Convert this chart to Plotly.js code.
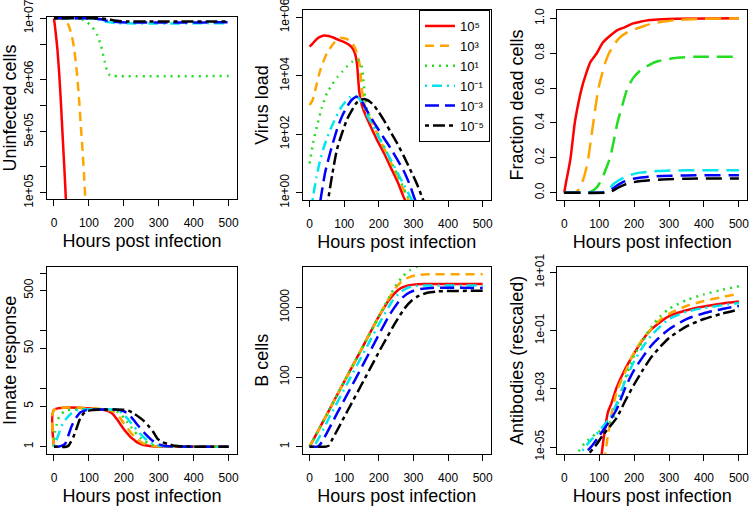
<!DOCTYPE html>
<html><head><meta charset="utf-8">
<script src="https://cdn.plot.ly/plotly-3.0.1.min.js"></script>
<style>html,body{margin:0;padding:0;background:#fff}</style>
</head><body><div id="chart" style="width:750px;height:508px"></div>
<script>
// ---------- series ----------
const seriesNames = ['10\u2075','10\u00B3','10\u00B9','10\u207B\u00B9','10\u207B\u00B3','10\u207B\u2075'];
const seriesColors = ['#FF0000','#FFA500','#22DD22','#00E5EE','#0000FF','#000000'];
const seriesDash = ['solid','9px,6px','2px,5px','2px,5px,10px,5px','14px,6px','4px,4px,12px,4px'];
const deadDash = ['solid','16px,8px','16px,8px','16px,8px','16px,8px','16px,8px'];

// ---------- Uninfected cells ----------
const uninfectedT = [
  [0,5,10,15,20,25,30,35,40],
  [0,20,30,40,50,58,65,72,78,82,86,90,95],
  [0,60,80,95,110,123,135,145,152,160,170,500],
  [0,100,120,150,180,500],
  [0,110,130,160,190,500],
  [0,130,150,180,210,500]
];
const uninfectedV = [
  [1e7,6.8e6,4.3e6,2.3e6,1.05e6,4.3e5,1.8e5,7e4,2.5e4],
  [1e7,9.9e6,9.5e6,8.6e6,6.6e6,4.4e6,2.5e6,1.15e6,5e5,3e5,1.6e5,8e4,3e4],
  [1e7,9.95e6,9.7e6,9.0e6,7.9e6,6.5e6,4.8e6,3.2e6,2.5e6,2.22e6,2.18e6,2.18e6],
  [1e7,1e7,9.8e6,9.1e6,8.8e6,8.8e6],
  [1e7,1e7,9.8e6,9.2e6,9.0e6,9.0e6],
  [1e7,1e7,9.8e6,9.35e6,9.2e6,9.2e6]
];

// ---------- Virus load (log10 values) ----------
const virusT = [
  [0,10,20,30,42,55,70,85,100,115,125,132,137,140,143,147,152,160,175,195,215,235,255,270,285],
  [0,8,16,31,50,70,90,105,120,130,138,146,150,156,160,180,200,220,240,260,281,295],
  [0,10,21,35,50,65,80,95,108,122,138,146,151,155,160,166,180,200,220,240,260,283,295],
  [0,5,10,20,31,45,60,75,89,104,118,127,135,146,156,166,180,195,214,233,250,270,290,305],
  [0,15,25,33,45,60,80,95,110,122,135,145,155,166,180,195,214,233,253,272,290,301,315],
  [0,20,35,45,55,65,79,94,108,122,136,150,160,170,185,200,214,233,253,272,291,310,324,335]
];
const virusLog10 = [
  [5.0,5.12,5.25,5.33,5.38,5.36,5.3,5.22,5.15,5.05,4.92,4.72,4.4,3.95,3.5,3.2,2.95,2.7,2.3,1.8,1.35,0.85,0.35,-0.1,-0.5],
  [3.0,3.15,3.5,4.2,4.77,5.12,5.29,5.27,5.15,4.98,4.72,4.3,3.6,3.2,2.9,2.4,1.9,1.4,0.9,0.4,-0.13,-0.5],
  [1.0,1.7,2.26,2.9,3.4,3.7,3.95,4.15,4.32,4.47,4.55,4.45,4.3,3.88,3.3,2.85,2.45,1.95,1.45,0.95,0.45,-0.13,-0.45],
  [-1,-0.55,-0.13,0.55,1.14,1.7,2.17,2.55,2.88,3.12,3.28,3.33,3.3,3.18,2.95,2.65,2.34,2.0,1.58,1.15,0.77,0.32,-0.13,-0.5],
  [-3,-1.6,-0.8,-0.13,0.7,1.4,2.2,2.65,2.98,3.18,3.28,3.22,3.05,2.8,2.52,2.23,1.88,1.54,1.14,0.74,0.25,-0.13,-0.55],
  [-5,-3.3,-1.8,-0.9,-0.13,0.6,1.48,2.05,2.51,2.82,3.08,3.18,3.2,3.15,3.0,2.75,2.49,2.1,1.69,1.25,0.78,0.3,-0.13,-0.45]
];

// ---------- Fraction dead cells ----------
const deadT = [
  [0,5,10,18,24,30,40,50,62,75,93,110,131,150,174,195,217,245,280,320,500],
  [0,25,35,45,55,63,69,76,83,90,98,108,118,128,140,152,165,185,205,226,250,280,320,380,500],
  [0,60,75,93,110,122,131,142,152,166,181,198,217,245,270,293,330,380,500],
  [0,100,115,130,141,155,179,200,217,250,293,350,500],
  [0,110,125,140,150,165,180,198,220,245,280,350,500],
  [0,120,135,148,160,175,198,220,245,280,350,500]
];
const deadV = [
  [0,0.06,0.11,0.2,0.3,0.4,0.51,0.6,0.68,0.75,0.8,0.86,0.9,0.93,0.95,0.97,0.98,0.99,0.995,0.998,1],
  [0,0,0.005,0.03,0.08,0.14,0.2,0.3,0.4,0.5,0.6,0.68,0.75,0.8,0.84,0.875,0.9,0.925,0.94,0.955,0.97,0.98,0.99,0.997,1],
  [0,0,0.005,0.03,0.09,0.15,0.2,0.3,0.4,0.5,0.6,0.66,0.7,0.735,0.755,0.765,0.775,0.78,0.78],
  [0,0,0.005,0.025,0.05,0.07,0.095,0.108,0.115,0.122,0.126,0.128,0.128],
  [0,0,0.005,0.025,0.04,0.058,0.07,0.08,0.087,0.092,0.096,0.099,0.1],
  [0,0,0.007,0.022,0.035,0.048,0.06,0.067,0.072,0.076,0.08,0.082]
];

// ---------- Innate response ----------
const innateT = [
  [0,0.5,140,160,170,180,190,200,210,220,230,240,250,260,280,300,500],
  [0,1,150,170,180,190,200,210,220,230,240,250,260,270,290,310,500],
  [0,3,8,15,22,30,36,50,160,180,190,200,210,220,230,240,250,260,270,280,300,320,500],
  [0,5,10,17,25,36,50,65,80,170,190,200,210,220,230,240,250,260,270,280,290,310,330,500],
  [0,15,25,32,40,51,60,75,90,104,180,200,210,220,230,240,250,260,270,280,290,300,320,340,500],
  [0,35,42,48,55,65,75,85,94,110,123,200,215,230,245,257,270,283,296,310,325,345,370,500]
];
const innateV = [
  [1,4.37,4.37,4.0,3.6,3.0,2.45,2.0,1.7,1.45,1.3,1.17,1.1,1.06,1.02,1.01,1],
  [1,4.37,4.37,4.1,3.7,3.1,2.55,2.1,1.75,1.5,1.32,1.19,1.11,1.06,1.02,1.01,1],
  [1,1.8,2.45,3.3,3.7,4.1,4.25,4.37,4.37,4.05,3.7,3.15,2.65,2.2,1.85,1.57,1.38,1.24,1.14,1.08,1.03,1.01,1],
  [1,1.2,1.45,1.9,2.5,3.1,3.8,4.25,4.37,4.37,4.0,3.6,3.1,2.6,2.2,1.85,1.6,1.4,1.25,1.15,1.08,1.03,1.01,1],
  [1,1.01,1.05,1.12,1.5,2.3,2.95,3.9,4.25,4.37,4.37,4.1,3.75,3.3,2.8,2.35,2.0,1.7,1.48,1.3,1.18,1.1,1.03,1.01,1],
  [1,1,1.05,1.2,1.45,2.1,3.1,3.75,4.1,4.3,4.37,4.37,4.15,3.7,3.2,2.8,2.3,1.85,1.38,1.2,1.12,1.04,1.01,1]
];

// ---------- B cells (log10 values) ----------
const bcellT = [
  [0,50,100,150,200,230,250,265,280,300,330,500],
  [0,50,100,150,200,230,250,270,290,310,340,500],
  [0,50,100,150,200,230,250,270,290,310,330,360,400,500],
  [0,12,60,110,160,210,240,260,280,300,330,500],
  [0,25,35,80,130,180,230,260,280,300,320,350,500],
  [0,45,55,65,110,160,210,250,275,295,315,340,370,500]
];
const bcellLog10 = [
  [0,0.93,1.87,2.8,3.74,4.22,4.45,4.56,4.62,4.655,4.67,4.67],
  [0,0.93,1.87,2.8,3.74,4.28,4.58,4.78,4.88,4.93,4.95,4.95],
  [0,0.93,1.87,2.8,3.74,4.3,4.65,4.9,5.07,5.17,5.25,5.3,5.33,5.35],
  [0,0.02,0.9,1.84,2.77,3.7,4.2,4.42,4.55,4.61,4.63,4.63],
  [0,0.01,0.13,0.97,1.9,2.84,3.77,4.2,4.38,4.48,4.53,4.56,4.56],
  [0,0,0.03,0.2,1.04,1.97,2.9,3.6,3.98,4.2,4.33,4.42,4.46,4.48]
];

// ---------- Antibodies (rescaled, log10 values) ----------
const antibodyT = [
  [100,107,115,125,135,150,175,200,225,250,275,300,350,400,450,500],
  [110,117,125,135,150,175,200,225,250,275,300,350,400,450,500],
  [0,36,60,90,120,140,160,180,200,225,250,275,300,350,400,450,500],
  [0,45,70,100,130,150,175,200,225,250,275,300,350,400,450,500],
  [0,59,80,100,130,150,175,200,225,250,275,300,350,400,450,500],
  [0,70,90,110,130,150,175,200,225,250,275,300,350,400,450,500]
];
const antibodyLog10 = [
  [-6,-5.25,-4.5,-3.8,-3.5,-2.95,-2.3,-1.78,-1.3,-0.95,-0.7,-0.5,-0.3,-0.17,-0.07,0.0],
  [-6,-5.25,-4.6,-3.9,-3.1,-2.4,-1.75,-1.28,-0.93,-0.62,-0.42,-0.15,0.02,0.15,0.27],
  [-6.5,-5.25,-4.85,-4.55,-4.3,-4.0,-3.2,-2.45,-1.85,-1.35,-0.85,-0.5,-0.25,0.05,0.25,0.4,0.53],
  [-6.5,-5.25,-4.85,-4.45,-4.0,-3.5,-2.7,-2.05,-1.55,-1.15,-0.85,-0.6,-0.35,-0.22,-0.13,-0.05],
  [-7,-5.25,-4.95,-4.62,-4.1,-3.7,-2.95,-2.35,-1.9,-1.5,-1.2,-0.95,-0.6,-0.4,-0.26,-0.15],
  [-7.5,-5.25,-4.95,-4.6,-4.3,-4.0,-3.4,-2.85,-2.35,-1.9,-1.55,-1.25,-0.85,-0.6,-0.42,-0.27]
];

// ---------- axis ticks ----------
const xTicks = [0,100,200,300,400,500];
const uninfTickVals = [1e5,5e5,2e6,1e7];
const uninfTickText = ['1e+05','5e+05','2e+06','1e+07'];
const uninfMinorTicks = [2e5,1e6,5e6];
const virusTickVals = [1,1e2,1e4,1e6];
const virusTickText = ['1e+00','1e+02','1e+04','1e+06'];
const deadTickVals = [0,0.2,0.4,0.6,0.8,1.0];
const deadTickText = ['0.0','0.2','0.4','0.6','0.8','1.0'];
const innateTickVals = [1,5,50,500];
const innateTickText = ['1','5','50','500'];
const innateMinorTicks = [10,100,1000];
const bcellTickVals = [1,100,10000];
const bcellTickText = ['1','100','10000'];
const abTickVals = [1e-5,1e-3,1e-1,1e1];
const abTickText = ['1e-05','1e-03','1e-01','1e+01'];

// ---------- build ----------
const FONT = 'Liberation Sans, Arial, sans-serif';
const W = 750, H = 508;
const traces = [];
function addPanel(idx, T, V, logv, dashes, legend) {
  for (let s = 0; s < 6; s++) {
    traces.push({
      type: 'scatter', mode: 'lines',
      x: T[s], y: logv ? V[s].map(v => Math.pow(10, v)) : V[s],
      xaxis: 'x' + (idx === 1 ? '' : idx), yaxis: 'y' + (idx === 1 ? '' : idx),
      name: seriesNames[s], showlegend: !!legend,
      line: {color: seriesColors[s], width: 2.5, dash: dashes[s], shape: 'spline', smoothing: 0.6},
      hoverinfo: 'skip'
    });
  }
}
addPanel(1, uninfectedT, uninfectedV, false, seriesDash, false);
addPanel(2, virusT, virusLog10, true, seriesDash, true);
addPanel(3, deadT, deadV, false, deadDash, false);
addPanel(4, innateT, innateV, false, seriesDash, false);
addPanel(5, bcellT, bcellLog10, true, seriesDash, false);
addPanel(6, antibodyT, antibodyLog10, true, seriesDash, false);

function px2dom(a, b) { return [a / W, b / W]; }
function py2dom(top, bot) { return [1 - bot / H, 1 - top / H]; }

function xAxis(dom, anchor) {
  return {
    domain: dom, anchor: anchor, range: [-20, 524], tickvals: xTicks,
    ticks: 'outside', ticklen: 6, tickcolor: '#000', tickwidth: 1,
    showline: true, mirror: true, linecolor: '#000', linewidth: 1,
    showgrid: false, zeroline: false, ticklabelstandoff: 7, ticklabeloverflow: 'allow',
    tickfont: {family: FONT, size: 12, color: '#000'},
    title: {text: 'Hours post infection', font: {family: FONT, size: 18, color: '#000'}, standoff: 4}
  };
}
function yAxis(dom, anchor, title, type, range, tv, tt, minorVals) {
  const ax = {
    domain: dom, anchor: anchor, type: type, range: range, tickvals: tv, ticktext: tt,
    ticks: 'outside', ticklen: 6, tickcolor: '#000', tickwidth: 1, tickangle: -90,
    showline: true, mirror: true, linecolor: '#000', linewidth: 1,
    showgrid: false, zeroline: false, ticklabelstandoff: 2, ticklabeloverflow: 'allow',
    tickfont: {family: FONT, size: 12, color: '#000'},
    title: {text: title, font: {family: FONT, size: 18, color: '#000'}, standoff: 4}
  };
  if (minorVals) {
    ax.minor = {tickmode: 'array', tickvals: minorVals, ticks: 'outside', ticklen: 6,
                tickcolor: '#000', tickwidth: 1, showgrid: false};
  }
  return ax;
}
const c1 = px2dom(47, 237), c2 = px2dom(302.7, 491), c3 = px2dom(557.3, 747.3);
const rTop = py2dom(10, 200), rTop1 = py2dom(17, 199), rBot = py2dom(266.7, 454);

const layout = {
  width: W, height: H, margin: {l: 0, r: 0, t: 0, b: 0},
  paper_bgcolor: '#fff', plot_bgcolor: '#fff',
  font: {family: FONT, color: '#000'},
  showlegend: true,
  legend: {x: 419 / W, y: 1 - 10 / H, xanchor: 'left', yanchor: 'top',
           bordercolor: '#000', borderwidth: 1, bgcolor: 'rgba(255,255,255,0)',
           font: {family: FONT, size: 13, color: '#000'}, itemwidth: 30, tracegroupgap: 0},
  xaxis: xAxis(c1, 'y'),
  yaxis: yAxis(rTop1, 'x', 'Uninfected cells', 'log', [4.928, 7.015], uninfTickVals, uninfTickText, uninfMinorTicks),
  xaxis2: xAxis(c2, 'y2'),
  yaxis2: yAxis(rTop, 'x2', 'Virus load', 'log', [-0.25, 6.25], virusTickVals, virusTickText),
  xaxis3: xAxis(c3, 'y3'),
  yaxis3: yAxis(rTop, 'x3', 'Fraction dead cells', 'linear', [-0.042, 1.048], deadTickVals, deadTickText),
  xaxis4: xAxis(c1, 'y4'),
  yaxis4: yAxis(rBot, 'x4', 'Innate response', 'log', [-0.126, 3.11], innateTickVals, innateTickText, innateMinorTicks),
  xaxis5: xAxis(c2, 'y5'),
  yaxis5: yAxis(rBot, 'x5', 'B cells', 'log', [-0.21, 5.17], bcellTickVals, bcellTickText),
  xaxis6: xAxis(c3, 'y6'),
  yaxis6: yAxis(rBot, 'x6', 'Antibodies (rescaled)', 'log', [-5.24, 1.2], abTickVals, abTickText)
};
Plotly.newPlot('chart', traces, layout, {staticPlot: true, displayModeBar: false});
</script></body></html>
